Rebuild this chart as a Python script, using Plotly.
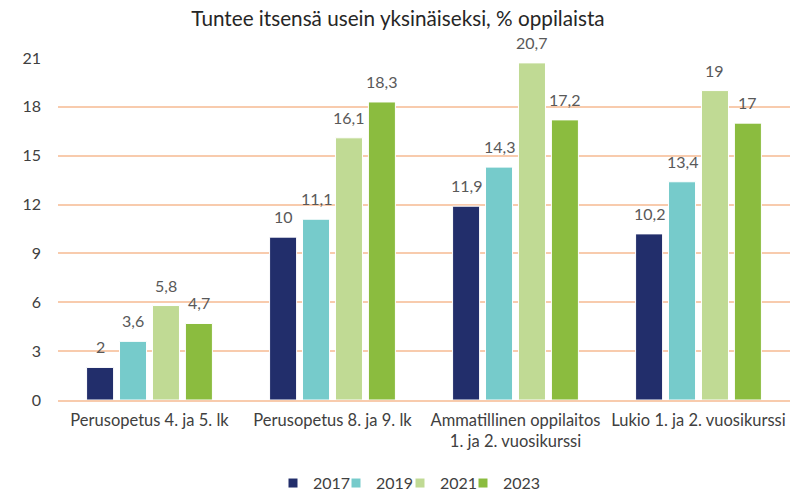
import plotly.graph_objects as go

categories = ["Perusopetus 4. ja 5. lk", "Perusopetus 8. ja 9. lk",
              "Ammatillinen oppilaitos<br>1. ja 2. vuosikurssi", "Lukio 1. ja 2. vuosikurssi"]
years = ["2017", "2019", "2021", "2023"]
values = {
    "2017": [2, 10, 11.9, 10.2],
    "2019": [3.6, 11.1, 14.3, 13.4],
    "2021": [5.8, 16.1, 20.7, 19],
    "2023": [4.7, 18.3, 17.2, 17],
}
colors = {"2017": "#222E6B", "2019": "#76CBCB", "2021": "#C0DA94", "2023": "#8BBC3F"}
y_ticks = [0, 3, 6, 9, 12, 15, 18, 21]

FONT = "Lato, Noto Sans, sans-serif"
W, H = 796, 495
ML, MR, MT, MB = 58, 6, 58, 95
BARGAP = 0.28

def fmt(v):
    s = f"{v:g}"
    return s.replace(".", ",")

fig = go.Figure()
for y in years:
    fig.add_trace(go.Bar(
        x=categories, y=values[y], name=y, showlegend=False,
        marker=dict(color=colors[y], line=dict(color="white", width=1)),
    ))

# data labels, placed over each bar via the axes
slot = (W - ML - MR) / len(categories) * (1 - BARGAP) / len(years)
annotations = []
for i, y in enumerate(years):
    for c, v in zip(categories, values[y]):
        annotations.append(dict(
            x=c, y=v, xref="x", yref="y", text=fmt(v), showarrow=False,
            xanchor="center", yanchor="bottom", yshift=9, xshift=(i - 1.5) * slot,
            font=dict(size=16, color="#595959", family=FONT),
        ))

# legend entries (one legend each, to match compact spacing)
legend_x = [273, 336, 400, 463]
legend_layout = {}
for i, y in enumerate(years):
    lname = "legend" if i == 0 else f"legend{i + 1}"
    fig.add_trace(go.Scatter(
        x=[None], y=[None], mode="markers", name=y, legend=lname,
        marker=dict(symbol="square", size=9, color=colors[y]),
    ))
    legend_layout[lname] = dict(
        orientation="h", xref="container", yref="container",
        x=legend_x[i] / W, y=0.024, xanchor="left", yanchor="middle",
        font=dict(size=16, color="#404040", family=FONT), itemwidth=30,
        bgcolor="rgba(0,0,0,0)",
    )

fig.update_layout(
    width=W, height=H,
    paper_bgcolor="white", plot_bgcolor="white",
    barmode="group", bargap=BARGAP, bargroupgap=0.18,
    margin=dict(l=ML, r=MR, t=MT, b=MB, autoexpand=False),
    title=dict(text="Tuntee itsensä usein yksinäiseksi, % oppilaista", x=0.5, xanchor="center",
               xref="container", yref="container", y=0.963, yanchor="middle",
               font=dict(size=20.7, color="#262626", family=FONT)),
    font=dict(family=FONT, color="#404040", size=15),
    annotations=annotations,
    showlegend=True,
    **legend_layout,
)
fig.update_yaxes(range=[0, 21], tickvals=y_ticks, showgrid=True, gridcolor="#F8CBAD",
                 gridwidth=2, zeroline=False, showline=False, ticks="", ticklabelstandoff=16,
                 tickfont=dict(size=16, color="#404040"))
fig.update_xaxes(showline=True, linecolor="#F8CBAD", linewidth=2, ticks="", ticklabelstandoff=4,
                 tickfont=dict(size=16.5, color="#404040"))

fig.write_html("out.html", config={"displayModeBar": False},
               post_script="document.body.style.margin='0';document.body.style.padding='0';")
